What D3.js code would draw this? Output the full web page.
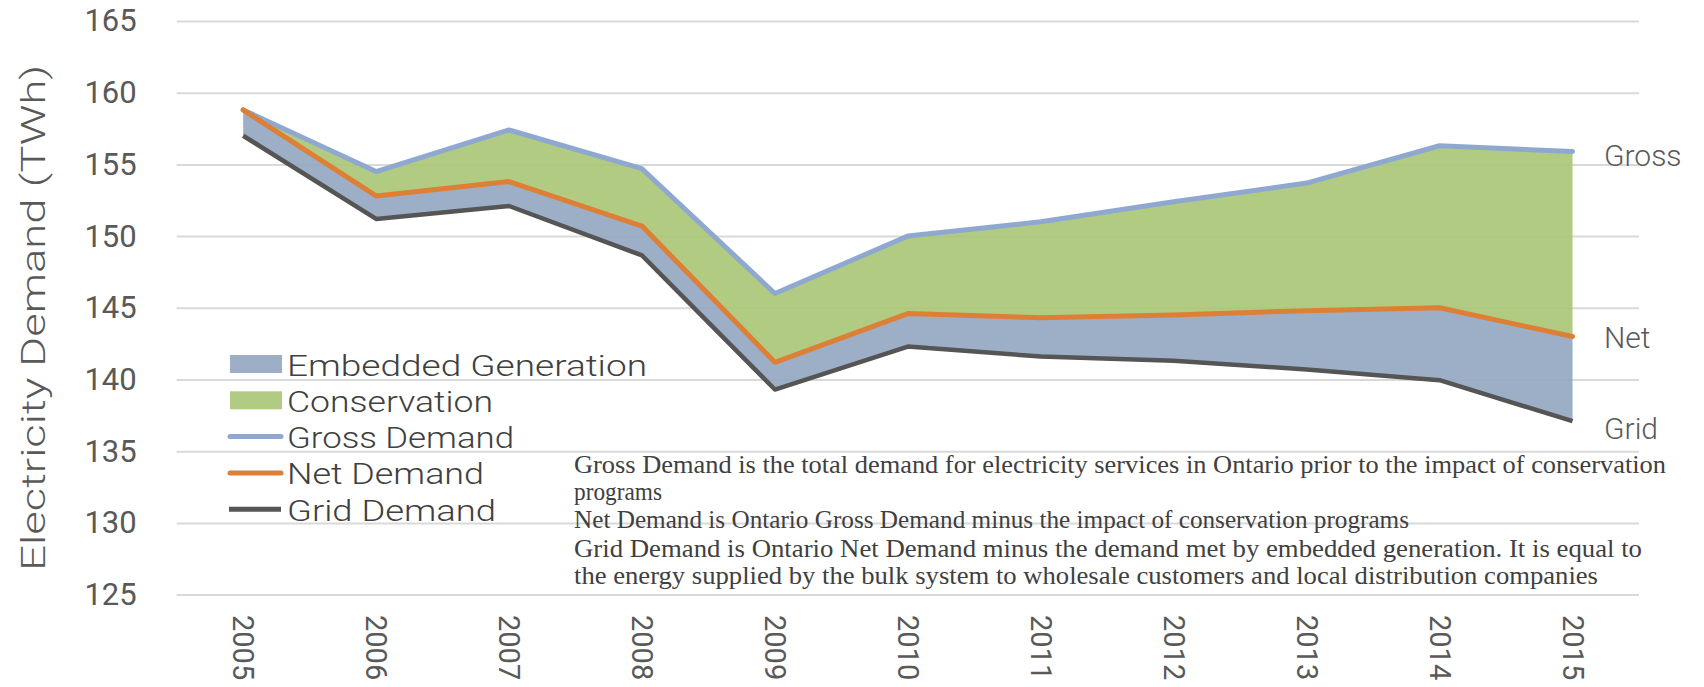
<!DOCTYPE html>
<html lang="en">
<head>
<meta charset="utf-8">
<style>
  html, body { margin: 0; padding: 0; background: #fff; }
  svg { display: block; }
  .sans { font-family: Roboto, "Noto Sans", sans-serif; font-weight: 300; fill: #595959; }
  .tick text { font-weight: 400; }
  .note { font-family: "Liberation Serif", "DejaVu Serif", serif; fill: #404040; }
</style>
<script src="https://cdn.jsdelivr.net/npm/d3@7/dist/d3.min.js"></script>
</head>
<body>
<div id="chart"></div>
<script>
// values (TWh)
var years = [2005, 2006, 2007, 2008, 2009, 2010, 2011, 2012, 2013, 2014, 2015];
var gross = [158.8, 154.5, 157.4, 154.7, 146.0, 150.0, 151.0, 152.4, 153.7, 156.3, 155.9];
var net   = [158.8, 152.8, 153.8, 150.7, 141.2, 144.6, 144.3, 144.5, 144.8, 145.0, 143.0];
var grid  = [157.0, 151.2, 152.1, 148.65, 139.3, 142.3, 141.6, 141.3, 140.7, 139.95, 137.1];
var yTicks = [125, 130, 135, 140, 145, 150, 155, 160, 165];
var legendItems = [
  {name: "Embedded Generation", kind: "area", color: "#92a6c1"},
  {name: "Conservation", kind: "area", color: "#aac574"},
  {name: "Gross Demand", kind: "line", color: "#8fa8d0"},
  {name: "Net Demand", kind: "line", color: "#de7f36"},
  {name: "Grid Demand", kind: "line", color: "#555555"}
];
var endLabels = ["Gross", "Net", "Grid"];
var notes = [
  "Gross Demand is the total demand for electricity services in Ontario prior to the impact of conservation",
  "programs",
  "Net Demand is Ontario Gross  Demand minus the impact of conservation programs",
  "Grid Demand is Ontario Net Demand minus the demand met by embedded generation. It is equal to",
  "the energy supplied by the bulk system to wholesale customers and local distribution companies"
];

var width = 1704, height = 687;
var plotL = 176.7, plotR = 1639, plotT = 21, plotB = 594.6;

var rows = years.map(function(yr, i) {
  return {year: yr, gross: gross[i], net: net[i], grid: grid[i]};
});

var svg = d3.select("#chart").append("svg")
    .attr("width", width)
    .attr("height", height);

var x = d3.scalePoint().domain(years).range([plotL, plotR]).padding(0.5);
var y = d3.scaleLinear().domain([125, 165]).range([plotB, plotT]);

// gridlines + y tick labels
var yAxis = svg.append("g")
    .attr("transform", "translate(" + plotL + ",0)")
    .call(d3.axisLeft(y).tickValues(yTicks).tickSize(-(plotR - plotL)).tickPadding(40));
yAxis.select(".domain").remove();
yAxis.selectAll("line").attr("stroke", "#d9d9d9").attr("stroke-width", 2);
yAxis.selectAll("text")
    .attr("class", "sans")
    .style("font-size", "31px");

// x labels, turned a quarter clockwise
var xAxis = svg.append("g")
    .attr("transform", "translate(0,615)")
    .call(d3.axisBottom(x).tickSize(0).tickPadding(0));
xAxis.select(".domain").remove();
xAxis.selectAll("text")
    .attr("class", "sans")
    .attr("x", 0).attr("y", 0).attr("dy", "0.36em")
    .attr("transform", "rotate(90)")
    .style("text-anchor", "start")
    .style("font-size", "29px");

// y title
svg.append("text")
    .attr("class", "sans")
    .attr("transform", "translate(33," + ((plotT + plotB) / 2 + 10) + ") rotate(-90)")
    .attr("text-anchor", "middle")
    .attr("dominant-baseline", "central")
    .attr("textLength", 506)
    .attr("lengthAdjust", "spacingAndGlyphs")
    .style("font-size", "34px")
    .text("Electricity Demand (TWh)");

// areas
var embedded = d3.area()
    .x(function(d) { return x(d.year); })
    .y0(function(d) { return y(d.grid); })
    .y1(function(d) { return y(d.net); });
var conservation = d3.area()
    .x(function(d) { return x(d.year); })
    .y0(function(d) { return y(d.net); })
    .y1(function(d) { return y(d.gross); });

svg.append("path").datum(rows)
    .attr("d", embedded)
    .attr("fill", legendItems[0].color)
    .attr("fill-opacity", 0.9);
svg.append("path").datum(rows)
    .attr("d", conservation)
    .attr("fill", legendItems[1].color)
    .attr("fill-opacity", 0.9);

// lines
function lineFor(key) {
  return d3.line()
      .x(function(d) { return x(d.year); })
      .y(function(d) { return y(d[key]); });
}
svg.append("path").datum(rows)
    .attr("d", lineFor("gross"))
    .attr("fill", "none")
    .attr("stroke", legendItems[2].color)
    .attr("stroke-width", 5)
    .attr("stroke-linecap", "round")
    .attr("stroke-linejoin", "round");
svg.append("path").datum(rows)
    .attr("d", lineFor("grid"))
    .attr("fill", "none")
    .attr("stroke", legendItems[4].color)
    .attr("stroke-width", 4.5)
    .attr("stroke-linejoin", "round");
svg.append("path").datum(rows)
    .attr("d", lineFor("net"))
    .attr("fill", "none")
    .attr("stroke", legendItems[3].color)
    .attr("stroke-width", 5)
    .attr("stroke-linecap", "round")
    .attr("stroke-linejoin", "round");

// end labels
var last = rows[rows.length - 1];
var endVals = [last.gross, last.net, last.grid];
var endOffsets = [4, 1, 7];
svg.selectAll(".endlab").data(endLabels).enter().append("text")
    .attr("class", "sans endlab")
    .attr("x", 1604)
    .attr("y", function(d, i) { return y(endVals[i]) + endOffsets[i]; })
    .attr("dominant-baseline", "central")
    .style("font-size", "30px")
    .text(function(d) { return d; });

// legend
var legendWidths = [360, 206, 227, 197, 209];
var lg = svg.append("g").attr("transform", "translate(230,364)");
var item = lg.selectAll("g").data(legendItems).enter().append("g")
    .attr("transform", function(d, i) { return "translate(0," + (i * 36.3) + ")"; });
item.filter(function(d) { return d.kind === "area"; }).append("rect")
    .attr("x", 0).attr("y", -9).attr("width", 52).attr("height", 18)
    .attr("fill", function(d) { return d.color; })
    .attr("fill-opacity", 0.9);
item.filter(function(d) { return d.kind === "line"; }).append("line")
    .attr("x1", function(d) { return d.name === "Grid Demand" ? -1 : 0; })
    .attr("x2", 51)
    .attr("stroke", function(d) { return d.color; })
    .attr("stroke-width", 5)
    .attr("stroke-linecap", function(d) { return d.name === "Grid Demand" ? "butt" : "round"; });
item.append("text")
    .attr("class", "sans")
    .attr("x", 57)
    .attr("y", 1)
    .attr("dominant-baseline", "central")
    .attr("textLength", function(d, i) { return legendWidths[i]; })
    .attr("lengthAdjust", "spacingAndGlyphs")
    .style("font-size", "30px")
    .style("fill", "#404040")
    .text(function(d) { return d.name; });

// explanatory note
var noteWidths = [1092, 88, 835, 1068, 1024];
var noteBase = [473, 500, 528, 557, 584];
svg.selectAll(".note").data(notes).enter().append("text")
    .attr("class", "note")
    .attr("x", 574)
    .attr("y", function(d, i) { return noteBase[i]; })
    .attr("textLength", function(d, i) { return noteWidths[i]; })
    .attr("lengthAdjust", "spacingAndGlyphs")
    .style("font-size", "25px")
    .text(function(d) { return d; });
</script>
</body>
</html>
